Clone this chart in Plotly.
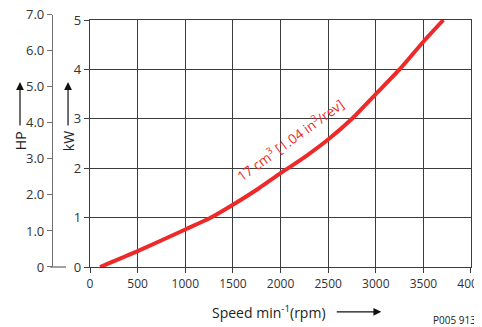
import plotly.graph_objects as go

# Data
speed_rpm = [105, 500, 1000, 1250, 1500, 1770, 2000, 2250, 2500, 2750, 3000, 3250, 3500, 3710]
power_kw = [0, 0.32, 0.76, 0.98, 1.26, 1.59, 1.9, 2.22, 2.58, 3.0, 3.5, 4.0, 4.56, 5.0]
x_ticks = [0, 500, 1000, 1500, 2000, 2500, 3000, 3500, 4000]
kw_ticks = [0, 1, 2, 3, 4, 5]
hp_ticks = [0, 1, 2, 3, 4, 5, 6, 7]
hp_labels = ["0", "1.0", "2.0", "3.0", "4.0", "5.0", "6.0", "7.0"]
curve_label = "17 cm<sup>3</sup> [1.04 in<sup>3</sup>/rev]"

W, H = 482, 327
OFF = 8  # page body margin offset
# target (viewport) positions of the paper area: x 20..470.7, y 10..266.7
ML = 20 - OFF
MR = W - (470.7 - OFF)
MT = 10 - OFF
MB = H - (266.7 - OFF)
PW = W - ML - MR
PH = H - MT - MB

def px(v):
    return (v - 20) / PW

def py(v):
    return (266.7 - v) / PH

RED = "#ED2A2A"
GRID = "#3c3c3c"
AX = "#707070"
FONT = "Open Sans"

fig = go.Figure()
fig.add_trace(go.Scatter(x=speed_rpm, y=power_kw, mode="lines",
                         line=dict(color=RED, width=4, shape="spline", smoothing=0.6),
                         showlegend=False, hoverinfo="skip"))
fig.add_trace(go.Scatter(x=[None], y=[None], xaxis="x2", yaxis="y2",
                         showlegend=False, hoverinfo="skip"))

fig.update_layout(
    width=W, height=H, autosize=False,
    margin=dict(l=ML, r=MR, t=MT, b=MB, pad=0, autoexpand=False),
    paper_bgcolor="white", plot_bgcolor="rgba(0,0,0,0)",
    font=dict(family=FONT, size=12, color="#333"),
    xaxis=dict(domain=[px(90), 1], range=[0, 4000], tickvals=x_ticks,
               ticktext=[str(v) for v in x_ticks], ticklabeloverflow="allow",
               showgrid=True, gridcolor=GRID, gridwidth=1.3,
               showline=True, linecolor=GRID, linewidth=1.3, mirror=True,
               ticks="outside", ticklen=5, tickcolor=GRID, tickwidth=1.2,
               zeroline=False, tickfont=dict(size=12, color="#333")),
    yaxis=dict(domain=[0, py(20)], range=[0, 5], tickvals=kw_ticks,
               ticklabeloverflow="allow",
               showgrid=True, gridcolor=GRID, gridwidth=1.3,
               showline=True, linecolor=GRID, linewidth=1.3, mirror=True,
               ticks="outside", ticklen=5, tickcolor=GRID, tickwidth=1.2,
               zeroline=False, tickfont=dict(size=13, color="#333")),
    xaxis2=dict(domain=[px(53), px(54)], range=[0, 1], visible=False, anchor="y2"),
    yaxis2=dict(domain=[0, py(14.7)], range=[0, 7], tickvals=hp_ticks, ticktext=hp_labels,
                anchor="x2", side="left", ticklabeloverflow="allow",
                showgrid=False, zeroline=False,
                showline=True, linecolor=AX, linewidth=1.3,
                ticks="outside", ticklen=5, tickcolor=AX, tickwidth=1.2,
                tickfont=dict(size=13, color="#333")),
)

# HP zero tick extension
fig.add_shape(type="line", xref="paper", yref="paper",
              x0=px(50), x1=px(66), y0=py(266.7), y1=py(266.7),
              line=dict(color=AX, width=1.3))

ann = []
# Curve label
ann.append(dict(x=2095, y=2.58, xref="x", yref="y", text=curve_label, showarrow=False,
                textangle=-36, xanchor="center", yanchor="middle",
                font=dict(size=13.5, color=RED, family=FONT)))
# HP / kW labels and arrows
for xp_, lab in [(20, "HP"), (68, "kW")]:
    ann.append(dict(x=px(xp_), y=py(141), xref="paper", yref="paper", text=lab,
                    xanchor="center", yanchor="middle",
                    showarrow=False, textangle=-90, font=dict(size=14, color="#222", family=FONT)))
    ann.append(dict(x=px(xp_), y=py(82), xref="paper", yref="paper", text="",
                    showarrow=True, ax=0, ay=45, arrowhead=2, arrowsize=1.3,
                    arrowwidth=1.2, arrowcolor="#111"))
# X title and arrow
ann.append(dict(x=px(328), y=py(311.5), xref="paper", yref="paper", xanchor="right",
                yanchor="middle",
                text="Speed min<sup>-1</sup>(rpm)", showarrow=False,
                font=dict(size=14, color="#222", family=FONT)))
ann.append(dict(x=px(381), y=py(311.5), xref="paper", yref="paper", text="",
                showarrow=True, ax=-46, ay=0, arrowhead=2, arrowsize=1.3,
                arrowwidth=1.2, arrowcolor="#111"))
ann.append(dict(x=px(478), y=py(320), xref="paper", yref="paper", xanchor="right",
                yanchor="middle",
                text="P005 913", showarrow=False,
                font=dict(size=10, color="#222", family=FONT)))
fig.update_layout(annotations=ann)

fig.write_html("out.html")
